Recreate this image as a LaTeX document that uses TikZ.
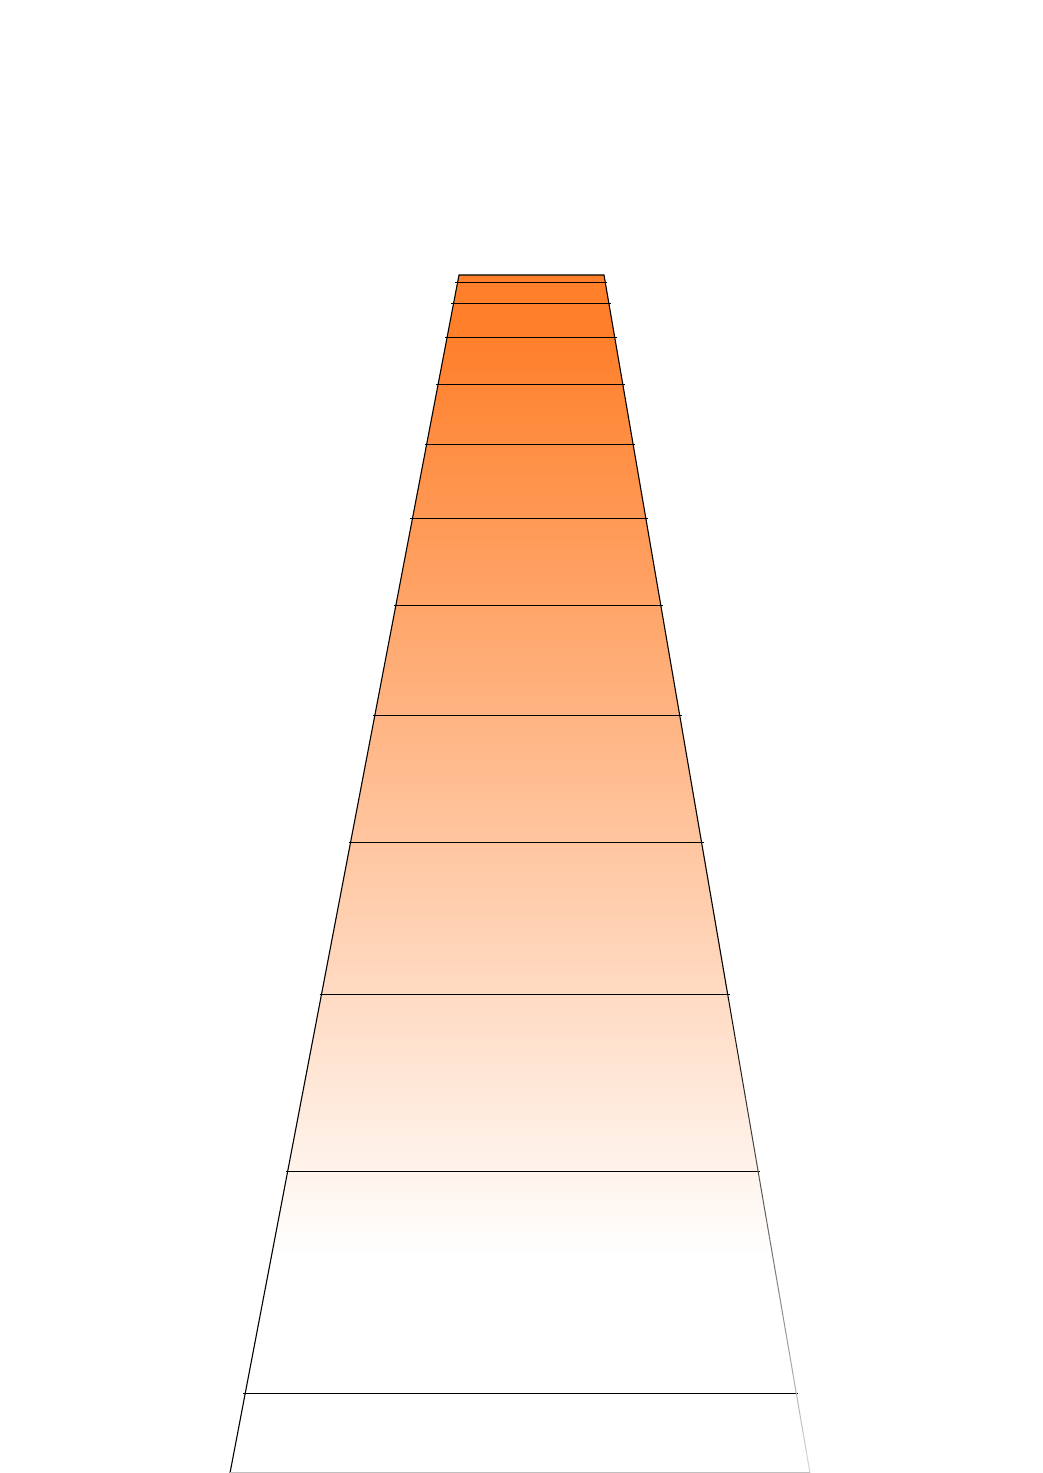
\documentclass[tikz,border=0pt]{standalone}
\usetikzlibrary{calc}
\definecolor{topor}{RGB}{255,127,42}
\begin{document}
\begin{tikzpicture}[x=1pt,y=-1pt,
  rung/.style={line width=1pt, black},
  edgeline/.style={line width=1.1pt, line join=miter}]
\fill[white] (0,0) rectangle (1042,1473);
\useasboundingbox (0,0) rectangle (1042,1473);
\coordinate (TL) at (459,275);
\coordinate (TR) at (604,275);
\coordinate (BL) at (230,1473);
\coordinate (BR) at (810,1473);
\coordinate (RF) at ($(TR)!{725/1198}!(BR)$);
\coordinate (BLi) at ($(BL)+(0,-1)$);
\coordinate (BRi) at ($(BR)+(0,-1)$);
% gradient fill
\begin{scope}
  \clip (TL) -- (TR) -- (BR) -- (BL) -- cycle;
  \fill[topor] (200,270) rectangle (850,335);
  \shade[top color=topor, bottom color=white] (200,335) rectangle (850,1255);
\end{scope}
% rungs
\foreach \yy in {283,304,338,385,445,519,605,716,842,994,1172,1393} {
  \draw[rung] ($(TL)!{(\yy-275)/1198}!(BL)+(-2,0)$) -- ($(TR)!{(\yy-275)/1198}!(BR)+(2,0)$);
}
% outline
\draw[edgeline] (BL) -- (TL) -- (TR) -- (RF);
\foreach \i in {0,...,23} {
  \pgfmathsetmacro{\fa}{\i/24}
  \pgfmathsetmacro{\fb}{(\i+1)/24}
  \pgfmathsetmacro{\pp}{100-85*(\i+0.5)/24}
  \draw[line width=1pt, black!\pp] ($(RF)!\fa!(BR)$) -- ($(RF)!\fb!(BR)$);
}
\draw[line width=1pt, black!25] (BLi) -- (BRi);
\end{tikzpicture}
\end{document}
